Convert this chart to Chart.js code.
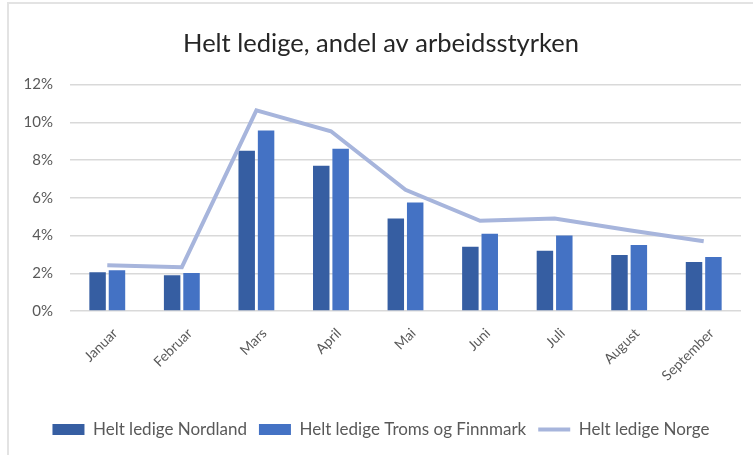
<!DOCTYPE html>
<html>
<head>
<meta charset="utf-8">
<script src="https://cdn.jsdelivr.net/npm/chart.js@4"></script>
<style>
    html, body { margin: 0; padding: 0; background: #fff; }
    #wrap { position: relative; width: 753px; height: 455px; overflow: hidden; }
    #frame { position: absolute; left: 7px; top: 2px; width: 900px; height: 600px; border: 2px solid #e3e3e3; }
    canvas { position: absolute; left: 0; top: 0; }
</style>
</head>
<body>
<div id="wrap">
    <div id="frame"></div>
    <canvas id="chart" width="753" height="455"></canvas>
</div>
<script>
const months = ['Januar', 'Februar', 'Mars', 'April', 'Mai', 'Juni', 'Juli', 'August', 'September'];
const nordland = [2.05, 1.9, 8.5, 7.7, 4.9, 3.4, 3.2, 2.97, 2.6];
const tromsFinnmark = [2.16, 2.02, 9.57, 8.6, 5.75, 4.1, 4.0, 3.5, 2.86];
const norge = [2.42, 2.32, 10.63, 9.53, 6.42, 4.78, 4.9, 4.28, 3.7];
const yTicks = [0, 2, 4, 6, 8, 10, 12];

const gray = '#595959';

new Chart(document.getElementById('chart'), {
    type: 'bar',
    data: {
        labels: months,
        datasets: [
            {
                type: 'line',
                label: 'Helt ledige Norge',
                data: norge,
                borderColor: '#a7b5dc',
                backgroundColor: '#a7b5dc',
                borderWidth: 4,
                pointRadius: 0,
                pointStyle: 'line',
                tension: 0,
                order: 0,
            },
            {
                label: 'Helt ledige Nordland',
                data: nordland,
                backgroundColor: '#365ea2',
                pointStyle: 'rect',
                categoryPercentage: 0.52,
                barPercentage: 0.85,
                order: 1,
            },
            {
                label: 'Helt ledige Troms og Finnmark',
                data: tromsFinnmark,
                backgroundColor: '#4472c4',
                pointStyle: 'rect',
                categoryPercentage: 0.52,
                barPercentage: 0.85,
                order: 1,
            },
        ],
    },
    options: {
        responsive: false,
        animation: false,
        // extra left padding pushes title/legend centre right, as in the original
        layout: { padding: { left: 21, right: 12, top: 0, bottom: 7 } },
        plugins: {
            title: {
                display: true,
                text: 'Helt ledige, andel av arbeidsstyrken',
                color: '#262626',
                font: { family: 'Lato', size: 25.5, weight: 'normal' },
                padding: { top: 28, bottom: 26 },
            },
            legend: {
                position: 'bottom',
                labels: {
                    usePointStyle: true,
                    pointStyleWidth: 32,
                    boxHeight: 11,
                    padding: 12,
                    color: gray,
                    font: { family: 'Lato', size: 17 },
                    sort: (a, b) => (a.datasetIndex === 0) - (b.datasetIndex === 0) || a.datasetIndex - b.datasetIndex,
                },
            },
            tooltip: { enabled: false },
        },
        scales: {
            x: {
                grid: { display: false },
                border: { display: false },
                ticks: {
                    color: gray,
                    padding: 6,
                    labelOffset: 8,
                    font: { family: 'Lato', size: 14 },
                    minRotation: 45,
                    maxRotation: 45,
                },
                afterFit: (scale) => { scale.height = 98; },
            },
            y: {
                min: 0,
                max: 12,
                afterBuildTicks: (scale) => { scale.ticks = yTicks.map(v => ({ value: v })); },
                grid: { color: '#d9d9d9', lineWidth: 1.5, drawTicks: false },
                border: { display: false },
                ticks: {
                    color: gray,
                    padding: 17,
                    font: { family: 'Lato', size: 15 },
                    callback: (v) => v + '%',
                },
                afterFit: (scale) => { scale.width = 49; },
            },
        },
    },
});
</script>
</body>
</html>
